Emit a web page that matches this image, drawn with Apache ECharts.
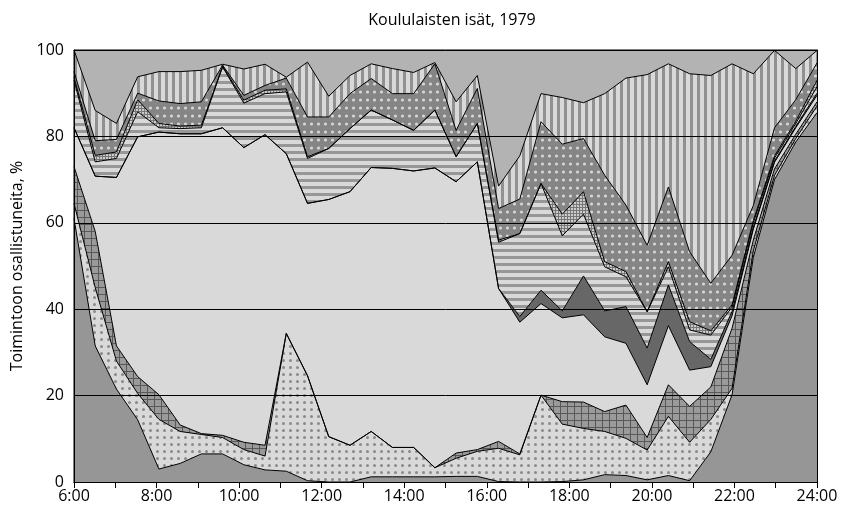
<!DOCTYPE html>
<html><head><meta charset="utf-8">
<script src="https://cdn.jsdelivr.net/npm/echarts@6/dist/echarts.min.js"></script>
<style>html,body{margin:0;padding:0;background:#fff}#c{width:846px;height:524px}</style>
</head><body><div id="c"></div>
<script>
// half-hour time slots 6:00–24:00
const slots = ['6:00','6:30','7:00','7:30','8:00','8:30','9:00','9:30','10:00','10:30','11:00','11:30',
 '12:00','12:30','13:00','13:30','14:00','14:30','15:00','15:30','16:00','16:30','17:00','17:30',
 '18:00','18:30','19:00','19:30','20:00','20:30','21:00','21:30','22:00','22:30','23:00','23:30'];
const xTickLabels = ['6:00','8:00','10:00','12:00','14:00','16:00','18:00','20:00','22:00','24:00'];
const yTicks = [0,20,40,60,80,100];

// share of fathers in each activity, %
const uni        = [61,31.5,21.5,14.4,3,4.3,6.5,6.5,4,2.8,2.5,0.3,0,0,1.2,1.2,1.2,1.2,1.3,1.3,0.1,0,0,0.1,0.5,1.7,1.5,0.5,1.5,0.3,7,20.2,52,70,78.7,85.5];
const henkilok   = [3.5,13.5,6.5,6.1,11.5,7.4,4.5,3.8,3.5,3.2,31.9,24.3,10.5,8.5,10.5,6.8,6.8,2.1,4.2,5.8,7.7,6.3,20.1,13.3,11.9,10,8.6,6.9,13.7,8.9,7.5,1.5,1.5,1,0.8,1.5];
const matkat     = [8.5,13,3.5,3.9,5.7,1.5,0.2,0.5,1.7,2.5,0,0,0,0,0,0,0,0,1.2,0.4,1.6,0.2,0,5.2,6.1,4.6,7.7,2.9,7.3,8.3,7.5,13.9,2.5,1.5,1,1];
const ansiotyo   = [9,12.8,39,55.5,60.8,67.4,69.4,71.2,68.2,71.9,41.6,39.9,54.9,58.7,61.1,64.6,64,69.4,62.8,66.6,35.4,30.5,21.2,19.4,20.2,17.3,14.3,12.2,13.7,8.4,4.7,2.9,2.5,1.5,1.5,1.5];
const lastenhoito= [0,0,0,0,0,0,0,0,0,0,0,0,0,0,0,0,0,0,0,0,0,1.3,3.1,1.6,9,6,8.5,8.5,9.4,6.6,1.7,1,0.5,0.3,0.3,0.5];
const kotityo    = [11,3.3,4.4,5.8,1,1.2,1.4,14.1,10.3,9.5,14.3,10.4,11.8,14.6,13.3,11.2,9.4,13.4,5.8,8.9,10.7,19.2,24.7,17.4,14.3,10.2,6.9,8.4,4.2,2.7,5.6,1,1,0.7,0.7,1.5];
const opiskelu   = [0.7,1.5,1.5,2.8,1,0.6,0.6,0.1,0.7,0.8,0.7,0.4,0,0,0,0,0,0,0,0,0.5,0,0,5,5.2,1.2,1.2,0,1.2,1.9,1,0.5,0.5,0.5,0.5,1.5];
const tv         = [1.3,3.4,2.9,1.5,5.2,5.2,5.4,0.3,1.1,1.1,2.5,9.2,7.3,8.1,7.3,6.1,8.5,10.7,6.1,8.1,7.3,8,14.3,16.2,12.3,20,15.4,15.4,17.3,16.2,11,11.5,3.5,6.5,5,4];
const vapaa      = [5,7,3.7,3.8,6.8,7.4,7.3,0.2,6.1,4.9,0.2,12.7,4.8,4.2,3.4,5.8,4.9,0.3,6.6,3,5.2,10,6.5,10.8,8.3,18.9,29.4,39.5,28.5,41.2,48.1,44.3,30.5,17.9,7.2,2.9];

function pat(w,h,draw){const c=document.createElement('canvas');c.width=w;c.height=h;const g=c.getContext('2d');draw(g,w,h);return {image:c,repeat:'repeat'};}
const LIGHT='#d9d9d9';
const fDotsLight = pat(7,7,(g)=>{g.fillStyle=LIGHT;g.fillRect(0,0,7,7);g.fillStyle='#8a8a8a';g.beginPath();g.arc(3.5,3.5,1.5,0,Math.PI*2);g.fill();});
const fCross = pat(7,7,(g)=>{g.fillStyle='#9a9a9a';g.fillRect(0,0,7,7);g.fillStyle='#585858';g.fillRect(0,0,7,1);g.fillRect(0,0,1,7);});
const fHStripes = pat(1,7,(g)=>{g.fillStyle=LIGHT;g.fillRect(0,0,1,7);g.fillStyle='#979797';g.fillRect(0,4,1,3);});
const fFine = pat(3,3,(g)=>{g.fillStyle='#cccccc';g.fillRect(0,0,3,3);g.fillStyle='#777777';g.fillRect(0,0,3,1);g.fillRect(0,0,1,3);});
const fGrayDots = pat(7,8,(g)=>{g.fillStyle='#858585';g.fillRect(0,0,7,8);g.fillStyle='#d6d6d6';g.beginPath();g.arc(3.5,4,1.6,0,Math.PI*2);g.fill();});
const fVStripes = pat(7,1,(g)=>{g.fillStyle=LIGHT;g.fillRect(0,0,7,1);g.fillStyle='#919191';g.fillRect(4,0,3,1);});

const layers = [
  ['Nukkuminen', uni, '#969696'],
  ['Henkilökohtaiset tarpeet', henkilok, fDotsLight],
  ['Matkat', matkat, fCross],
  ['Ansiotyö', ansiotyo, LIGHT],
  ['Lastenhoito', lastenhoito, '#676767'],
  ['Kotityöt', kotityo, fHStripes],
  ['Opiskelu', opiskelu, fFine],
  ['Television katselu', tv, fGrayDots],
  ['Muu vapaa-aika', vapaa, fVStripes]
];

const FONT = 'Open Sans';
const FS = 16;
const chart = echarts.init(document.getElementById('c'), null, {renderer:'canvas'});
chart.setOption({
  animation:false,
  title:{text:'Koululaisten isät, 1979', left:447, top:7, textAlign:'center',
    textStyle:{fontFamily:FONT, fontSize:FS, fontWeight:'normal', color:'#000'}},
  grid:{left:74, right:29, top:50, bottom:42, show:true, backgroundColor:'#b3b3b3', borderColor:'#000', borderWidth:1},
  xAxis:[
    {type:'category', data:slots, boundaryGap:false, position:'top', z:10,
     axisLine:{show:true, lineStyle:{color:'#000', width:1}}, axisTick:{show:false}, axisLabel:{show:false}, splitLine:{show:false}},
    {type:'value', min:6, max:24, interval:1, position:'bottom', z:10,
     axisLine:{show:true, onZero:false, lineStyle:{color:'#000', width:1}},
     axisTick:{show:true, length:6, lineStyle:{color:'#000'}},
     axisLabel:{fontFamily:FONT, fontSize:FS, color:'#000', margin:6,
       formatter:(v)=> (v%2===0) ? xTickLabels[(v-6)/2] : ''},
     splitLine:{show:false}}
  ],
  yAxis:[
    {type:'value', min:yTicks[0], max:yTicks[yTicks.length-1], interval:20, z:10,
     name:'Toimintoon osallistuneita, %', nameLocation:'middle', nameGap:38, nameRotate:90,
     nameTextStyle:{fontFamily:FONT, fontSize:FS, color:'#000'},
     axisLine:{show:true, lineStyle:{color:'#000'}}, axisTick:{show:false},
     axisLabel:{fontFamily:FONT, fontSize:FS, color:'#000', margin:10},
     splitLine:{show:true, lineStyle:{color:'#000', width:1}}},
    {type:'value', min:0, max:100, position:'right', z:10,
     axisLine:{show:true, lineStyle:{color:'#000'}}, axisTick:{show:false}, axisLabel:{show:false}, splitLine:{show:false}}
  ],
  series: layers.map(([name,data,fill])=>({
    name, type:'line', stack:'kaikki', data, xAxisIndex:0, yAxisIndex:0,
    symbol:'none', showSymbol:false, smooth:false,
    lineStyle:{color:'#000', width:1},
    areaStyle:{color:fill, opacity:1}
  }))
});
</script></body></html>
